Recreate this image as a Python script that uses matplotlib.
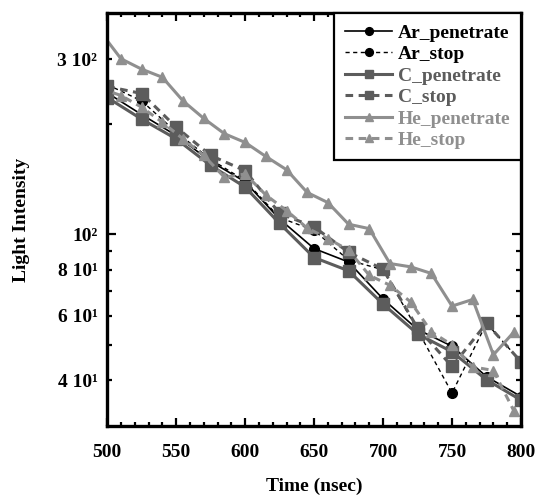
import matplotlib
matplotlib.use("Agg")
import matplotlib.pyplot as plt
from matplotlib.ticker import FixedLocator, FixedFormatter, MultipleLocator

plt.rcParams['font.family'] = ['Liberation Serif', 'DejaVu Serif']
plt.rcParams['font.weight'] = 'bold'

time_ac = [500, 525, 550, 575, 600, 625, 650, 675, 700, 725, 750, 775, 800]
ar_penetrate = [243, 212, 186, 158, 139, 110, 91.4, 84, 66.6, 55, 49.5, 40.9, 36.1]
ar_stop = [256, 231, 190, 160, 140, 111, 102.5, 85, 80, 54.8, 36.9, 57.2, 44.9]
c_penetrate = [236, 206, 182, 154, 134.5, 107, 86.4, 79.5, 64.5, 53.5, 47.8, 40.1, 35.3]
c_stop = [253, 242, 196, 164, 149, 114, 104.7, 89.3, 80.3, 55.5, 43.6, 57.2, 44.9]

time_he = [495, 510, 525, 540, 555, 570, 585, 600, 615, 630, 645,
           660, 675, 690, 705, 720, 735, 750, 765, 780, 795]
he_penetrate = [357, 301, 282, 268, 231, 207, 188, 178, 163, 150, 130,
                122, 106.5, 103.6, 83.2, 81.5, 78.2, 63.7, 66.4, 46.9, 54.2]
he_stop = [250, 239, 222, 202, 182, 164, 143, 146, 128, 116, 104,
           97.3, 90.5, 77.3, 72.6, 65.4, 54.2, 49.9, 43.5, 42.5, 32.9]

labels = ['Ar_penetrate', 'Ar_stop', 'C_penetrate', 'C_stop', 'He_penetrate', 'He_stop']
y_major = [100]
y_minor = [40, 50, 60, 70, 80, 90, 200, 300]
y_minor_labels = ['4 10\u00b9', '', '6 10\u00b9', '', '8 10\u00b9', '', '', '3 10\u00b2']
y_major_labels = ['10\u00b2']

black = '#000000'
cgray = '#5c5c5c'
hgray = '#8f8f8f'

fig = plt.figure(figsize=(5.36, 4.98), dpi=100)
ax = fig.add_axes([0.2, 0.1446, 0.772, 0.8283])

ax.plot(time_ac, ar_penetrate, '-', color=black, lw=1.2, marker='o', ms=7, label=labels[0])
ax.plot(time_ac, ar_stop, '--', color=black, lw=1.0, marker='o', ms=7, label=labels[1],
        dashes=(3, 2.5))
ax.plot(time_ac, c_penetrate, '-', color=cgray, lw=2.2, marker='s', ms=8, label=labels[2])
ax.plot(time_ac, c_stop, '--', color=cgray, lw=2.2, marker='s', ms=8, label=labels[3],
        dashes=(2.5, 1.8))
ax.plot(time_he, he_penetrate, '-', color=hgray, lw=2.2, marker='^', ms=7.5, label=labels[4])
ax.plot(time_he, he_stop, '--', color=hgray, lw=2.2, marker='^', ms=7.5, label=labels[5],
        dashes=(2.5, 1.8))

ax.set_yscale('log')
ax.set_xlim(500, 800)
ax.set_ylim(30, 400)

ax.xaxis.set_major_locator(MultipleLocator(50))
ax.xaxis.set_minor_locator(MultipleLocator(10))
ax.yaxis.set_major_locator(FixedLocator(y_major))
ax.yaxis.set_major_formatter(FixedFormatter(y_major_labels))
ax.yaxis.set_minor_locator(FixedLocator(y_minor))
ax.yaxis.set_minor_formatter(FixedFormatter(y_minor_labels))

for s in ax.spines.values():
    s.set_linewidth(2.4)

ax.tick_params(which='both', direction='in', top=True, right=True, width=1.6)
ax.tick_params(axis='x', which='major', length=5.5, labelsize=14, pad=13)
ax.tick_params(axis='x', which='minor', length=3)
ax.tick_params(axis='y', which='major', length=6.5, labelsize=14, pad=7)
ax.tick_params(axis='y', which='minor', length=3.3, labelsize=14, pad=7)
for lab in ax.get_xticklabels() + ax.get_yticklabels() + ax.get_yticklabels(minor=True):
    lab.set_fontweight('bold')

ax.set_xlabel('Time (nsec)', fontsize=14, fontweight='bold', labelpad=12)
ax.set_ylabel('Light Intensity', fontsize=14, fontweight='bold', labelpad=20)

leg = ax.legend(loc='upper right', borderaxespad=0, frameon=True, fancybox=False,
                handlelength=2.4, handletextpad=0.3, labelspacing=0.2, borderpad=0.55,
                markerscale=0.8, prop={'weight': 'bold', 'size': 14})
leg.get_frame().set_edgecolor('black')
leg.get_frame().set_linewidth(1.6)
leg.get_frame().set_alpha(1)
txt_colors = [black, black, cgray, cgray, hgray, hgray]
for t, c in zip(leg.get_texts(), txt_colors):
    t.set_color(c)
leg.set_zorder(10)

fig.savefig('out.png', dpi=100)
